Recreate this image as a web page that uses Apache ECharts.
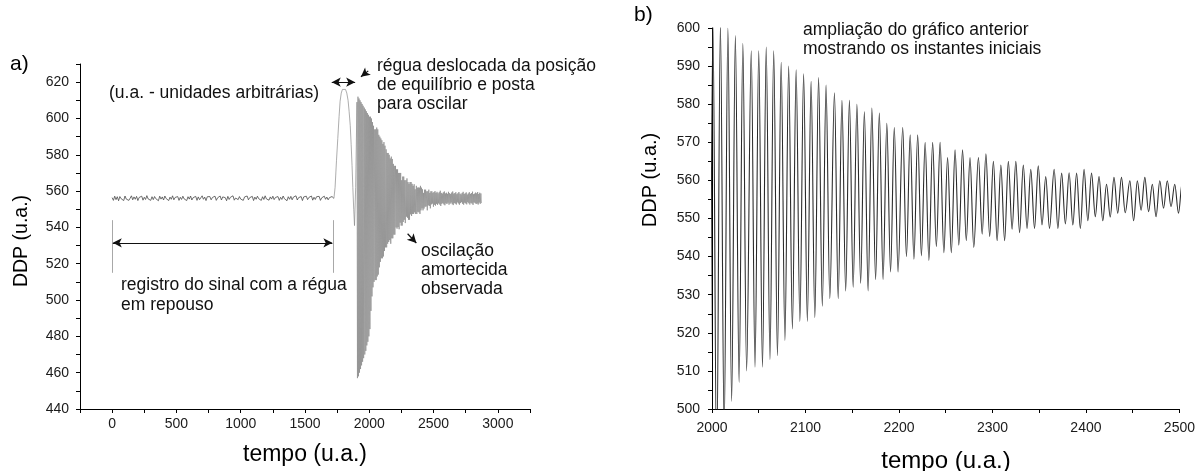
<!DOCTYPE html>
<html><head><meta charset="utf-8">
<script src="https://cdn.jsdelivr.net/npm/echarts@6/dist/echarts.min.js"></script>
<style>html,body{margin:0;padding:0;background:#fff}#c{width:1198px;height:471px}</style>
</head><body><div id="c"></div>
<script>
// ---- data ----
const restStep = 10; // baseline sampled every 10 u.a. from t = 0
const restV = [556.4,554.9,557.2,555.3,556.9,554.7,557.0,555.8,556.3,554.8,
557.3,555.6,556.7,554.9,556.1,557.4,555.2,556.8,555.5,557.1,
554.8,556.5,555.9,557.2,555.0,556.6,555.4,557.5,555.7,556.2,
554.9,556.9,555.3,557.0,555.8,556.4,554.7,557.2,555.6,556.8,
555.1,557.3,555.9,556.3,554.8,556.7,555.5,557.4,555.2,556.5,
555.8,557.0,554.9,556.6,555.4,557.2,555.7,556.1,554.8,556.9,
555.6,557.3,555.1,556.4,555.9,557.1,554.9,556.8,555.3,556.2,
557.4,555.5,556.7,554.8,556.9,555.8,557.0,555.2,556.5,555.7,
557.2,554.9,556.3,555.6,557.3,555.1,556.8,555.9,556.4,554.7,
557.1,555.4,556.6,555.8,557.4,555.0,556.2,556.9,555.3,557.0,
555.6,556.5,554.9,556.8,555.7,557.3,555.2,556.4,555.9,557.1,
554.8,556.7,555.5,557.2,555.8,556.3,554.9,556.9,555.4,557.4,
555.7,556.1,555.0,556.8,555.6,557.2,555.3,556.5,555.9,557.0,
554.9,556.6,555.4,557.3,555.8,556.2,554.7,556.9,555.5,557.1,
555.2,556.7,555.9,557.4,555.1,556.4,555.6,557.0,554.8,556.8,
555.7,557.2,555.3,556.5,555.9,557.3,555.0,556.6,555.4,556.9,
555.8,557.1,554.9,556.3,555.6,557.2,555.5,556.7,555.2,556.4,
555.9,557.0,556.2];
const humpT = [1725,1734,1745,1755,1765,1773,1782,1791,1804,1815,1825,1835,1843,1852,1859,1866,1872,1879,1885,1894];
const humpV = [556,562,577,589,601,609.5,614,616,617,616,614,610,604,596,585.6,574,562,550,541,562];
const peakT = [1904,1912,1920,1928,1936,1944,1952,1961,1969,1977,1985,1993,
2001,2009,2017,2025,2033,2042,2050,2058,2066,2074,2082,2090,2098,2106,2114,2122,2131,2139,2147,2155,2163,2171,2179,2187,2195,2204,2212,2220,2228,2236,2244,2252,2260,2268,2276,2285,2293,2301,2309,2317,2325,2333,2341,2349,2357,2366,2374,2382,2390,2398,2406,2414,2422,2430,2438,2447,2455,2463,2471,2479,2487,2495,
2503,2511,2519,2527,2535,2544,2552,2560,2568,2576,2584,2592,2600,2608,2616,2625,2633,2641,2649,2657,2665,2673,2681,2689,2697,2706,2714,2722,2730,2738,2746,2754,2762,2770,2778,2787,2795,2803,2811,2819,2827,2835,2843,2851,2859,2868];
const peakV = [609,612,611,610,609,608,607,606,605,604,603,602,
601,601,600,598,596,594,594,595,594,591,590,589,588,586,587,585,583,581,581,580,578,579,577.7,575,573.9,573.9,572,572,570,570,570,566,568,568,566,566,567,565,564,565,565,564,562.9,563.8,561,562.9,561.9,562,561.9,562.9,561.9,561,559,560.8,560.8,559.9,559.9,560.8,559,559.9,559.9,559,
559.5,560,559,559.6,558.8,559.4,560.2,559,558.6,559.3,559.8,558.7,559.1,558.5,559.6,558.9,558.4,559.2,559.8,558.6,558.9,559.4,558.3,558.8,559.5,558.6,558.2,559,559.6,558.4,558.8,559.3,558.1,558.7,559.4,558.5,558.9,559.7,558.3,558.6,559.2,558.8,559.5,558.4,559.1,558.7];
const troughT = [1908,1916,1924,1932,1940,1948,1956,1965,1973,1981,1989,1997,
2005,2013,2021,2029,2037,2046,2054,2062,2070,2078,2086,2094,2102,2110,2118,2126,2135,2143,2151,2159,2167,2175,2183,2191,2199,2208,2216,2224,2232,2240,2248,2256,2264,2272,2280,2289,2297,2305,2313,2321,2329,2337,2345,2353,2361,2370,2378,2386,2394,2402,2410,2418,2426,2434,2442,2451,2459,2467,2475,2483,2491,2499,
2507,2515,2523,2531,2539,2548,2556,2564,2572,2580,2588,2596,2604,2612,2620,2629,2637,2645,2653,2661,2669,2677,2685,2693,2701,2710,2718,2726,2734,2742,2750,2758,2766,2774,2782,2791,2799,2807,2815,2823,2831,2839,2847,2855,2863,2872];
const troughV = [457,458,460,462,464,466,468,470,472,475,477,480,
484,494,502,507,510,511,511,513,514,518,521,523,523,524,527,529,529,531,532,533,531,534,534,536,536,540,539.3,540.2,539,542.6,541,541,543,544.2,542.4,545.9,545.3,544.2,544.2,547.2,546.3,547.4,547.4,548.3,547.4,547.4,548.6,548.3,547.4,549.4,550.5,549.4,550.4,551.4,551.5,549.4,552.2,551.8,550.5,552.7,553.1,551.4,
552.5,552,553,552.4,553.2,552.6,551.8,553,553.4,552.7,552.2,553.3,552.9,553.6,552.5,553.1,553.7,552.8,552.3,553.4,553.1,552.6,553.8,553.2,552.5,553.4,553.9,553,552.5,553.6,553.2,552.7,553.9,553.3,552.6,553.5,553.1,552.4,553.8,553.4,552.9,553.2,552.6,553.7,553,553.4];
const leftXLabels = [0,500,1000,1500,2000,2500,3000];
const leftYLabels = [440,460,480,500,520,540,560,580,600,620];
const rightXLabels = [2000,2100,2200,2300,2400,2500];
const rightYLabels = [500,510,520,530,540,550,560,570,580,590,600];

// ---- build series ----
const restPts = restV.map((v, i) => [i * restStep, v]);
restPts.push([humpT[0], humpV[0]]);
const oscPts = humpT.map((t, i) => [t, humpV[i]]);
const n = Math.min(peakT.length, peakV.length, troughT.length, troughV.length);
for (let i = 0; i < n; i++) { oscPts.push([peakT[i], peakV[i]]); oscPts.push([troughT[i], troughV[i]]); }
const zoomPts = oscPts.filter(p => p[0] >= 1990);

const FF = "'Liberation Sans', Arial, Helvetica, sans-serif";
function axisCommon(labels, margin) {
  return {
    axisLine: {show: true, onZero: false, lineStyle: {color: '#000', width: 1}},
    axisTick: {show: true, length: 4, lineStyle: {color: '#000', width: 1}},
    splitLine: {show: false},
    axisLabel: {fontSize: 14, color: '#1a1a1a', fontFamily: FF, margin: margin,
      formatter: v => labels.indexOf(v) >= 0 ? String(v) : ''}
  };
}
const gray = '#a8a8a8';
function seg(a, b, extra) { return [Object.assign({coord: a}, extra || {}), {coord: b}]; }
const chart = echarts.init(document.getElementById('c'), null, {renderer: 'canvas'});
chart.setOption({
  animation: false,
  backgroundColor: '#fff',
  grid: [
    {left: 80, top: 64, width: 450, height: 345},
    {left: 712, top: 28, width: 469, height: 381}
  ],
  xAxis: [
    Object.assign({type: 'value', gridIndex: 0, min: -250, max: 3250, interval: 250}, axisCommon(leftXLabels, 8)),
    Object.assign({type: 'value', gridIndex: 1, min: 2000, max: 2500, interval: 50}, axisCommon(rightXLabels, 12))
  ],
  yAxis: [
    Object.assign({type: 'value', gridIndex: 0, min: 440, max: 630, interval: 10}, axisCommon(leftYLabels, 11)),
    Object.assign({type: 'value', gridIndex: 1, min: 500, max: 600, interval: 5}, axisCommon(rightYLabels, 12))
  ],
  series: [
    {type: 'line', xAxisIndex: 0, yAxisIndex: 0, data: restPts, showSymbol: false, symbol: 'none',
      lineStyle: {color: '#4a4a4a', width: 0.8}, silent: true, clip: false,
      markLine: {silent: true, animation: false, symbol: 'none', symbolSize: [7, 9],
        label: {show: false}, lineStyle: {color: gray, width: 1, type: 'solid'},
        emphasis: {disabled: true},
        data: [
          seg([1703, 633], [1703, 601]),
          seg([1895, 633], [1895, 601]),
          [{coord: [1708, 620], symbol: 'arrow', lineStyle: {color: '#111', width: 1}}, {coord: [1890, 620], symbol: 'arrow'}],
          seg([0, 544], [0, 515]),
          seg([1718, 544], [1718, 515]),
          [{coord: [5, 531.5], symbol: 'arrow', lineStyle: {color: '#111', width: 1}}, {coord: [1713, 531.5], symbol: 'arrow'}],
          [{coord: [1992, 626.2], symbol: 'none', lineStyle: {color: '#111', width: 1.2}}, {coord: [1935, 623], symbol: 'arrow'}],
          [{coord: [2298, 536.5], symbol: 'none', lineStyle: {color: '#111', width: 1.2}}, {coord: [2366, 531.4], symbol: 'arrow'}]
        ]}},
    {type: 'line', xAxisIndex: 0, yAxisIndex: 0, data: oscPts, showSymbol: false, symbol: 'none',
      lineStyle: {color: '#8a8a8a', width: 0.7}, silent: true},
    {type: 'line', xAxisIndex: 1, yAxisIndex: 1, data: zoomPts, showSymbol: false, symbol: 'none',
      smooth: 0.35, smoothMonotone: 'x', clip: true,
      lineStyle: {color: '#2b2b2b', width: 1.1}, silent: true}
  ],
  graphic: [
    {type: 'text', left: 10, top: 54, style: {text: 'a)', font: '21px ' + FF, fill: '#000'}},
    {type: 'text', left: 634, top: 5, style: {text: 'b)', font: '21px ' + FF, fill: '#000'}},
    {type: 'text', x: 22, y: 241, rotation: Math.PI / 2,
      style: {text: 'DDP (u.a.)', font: '19.5px ' + FF, fill: '#000', align: 'center', verticalAlign: 'middle'}},
    {type: 'text', x: 650, y: 180, rotation: Math.PI / 2,
      style: {text: 'DDP (u.a.)', font: '20px ' + FF, fill: '#000', align: 'center', verticalAlign: 'middle'}},
    {type: 'text', x: 305, y: 455,
      style: {text: 'tempo (u.a.)', font: '23px ' + FF, fill: '#000', align: 'center', verticalAlign: 'middle'}},
    {type: 'text', x: 946, y: 461,
      style: {text: 'tempo (u.a.)', font: '24px ' + FF, fill: '#000', align: 'center', verticalAlign: 'middle'}},
    {type: 'text', left: 109, top: 84,
      style: {text: '(u.a. - unidades arbitrárias)', font: '17.5px ' + FF, fill: '#111'}},
    {type: 'text', left: 377, top: 57,
      style: {text: 'régua deslocada da posição\nde equilíbrio e posta\npara oscilar', font: '17.5px ' + FF, fill: '#111', lineHeight: 19}},
    {type: 'text', left: 121, top: 275,
      style: {text: 'registro do sinal com a régua\nem repouso', font: '17.5px ' + FF, fill: '#111', lineHeight: 20}},
    {type: 'text', left: 421, top: 242,
      style: {text: 'oscilação\namortecida\nobservada', font: '17.5px ' + FF, fill: '#111', lineHeight: 18.7}},
    {type: 'text', left: 803, top: 21,
      style: {text: 'ampliação do gráfico anterior\nmostrando os instantes iniciais', font: '17.5px ' + FF, fill: '#111', lineHeight: 19}}
  ]
});
</script></body></html>
